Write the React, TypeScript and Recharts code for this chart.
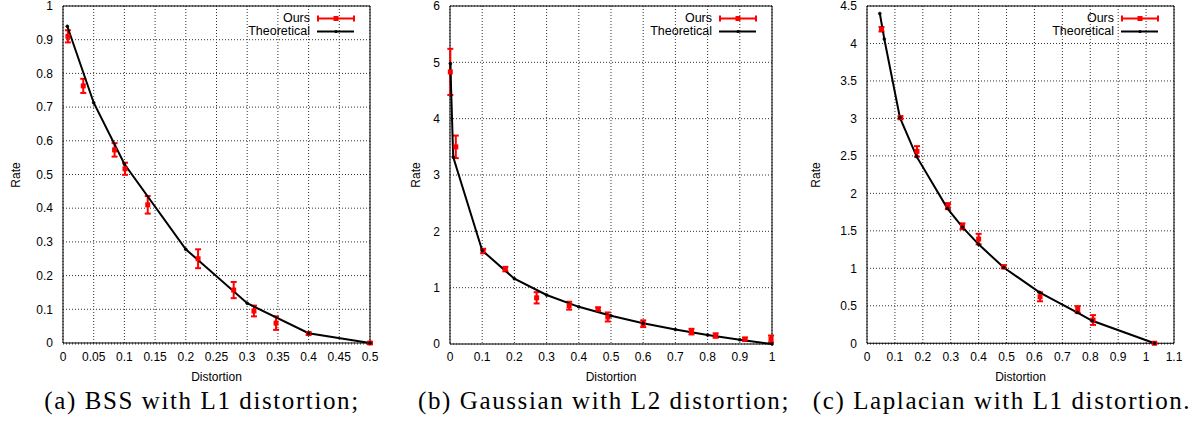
import {
  ComposedChart,
  Line,
  Scatter,
  ErrorBar,
  XAxis,
  YAxis,
  CartesianGrid,
  ReferenceArea,
  Legend,
} from 'recharts';

// (a) BSS with L1 distortion
const bssXTicks = [0, 0.05, 0.1, 0.15, 0.2, 0.25, 0.3, 0.35, 0.4, 0.45, 0.5];
const bssYTicks = [0, 0.1, 0.2, 0.3, 0.4, 0.5, 0.6, 0.7, 0.8, 0.9, 1];
const bssTheory = [
  { x: 0.007, y: 0.94 },
  { x: 0.05, y: 0.713 },
  { x: 0.1, y: 0.531 },
  { x: 0.2, y: 0.278 },
  { x: 0.3, y: 0.118 },
  { x: 0.4, y: 0.029 },
  { x: 0.5, y: 0 },
];
const bssOurs = [
  { x: 0.008, y: 0.91, e: 0.018 },
  { x: 0.033, y: 0.763, e: 0.021 },
  { x: 0.084, y: 0.573, e: 0.02 },
  { x: 0.101, y: 0.517, e: 0.018 },
  { x: 0.138, y: 0.41, e: 0.026 },
  { x: 0.22, y: 0.25, e: 0.028 },
  { x: 0.278, y: 0.157, e: 0.024 },
  { x: 0.311, y: 0.095, e: 0.016 },
  { x: 0.347, y: 0.059, e: 0.02 },
  { x: 0.4, y: 0.028, e: 0.004 },
  { x: 0.5, y: 0, e: 0.003 },
];

// (b) Gaussian with L2 distortion
const gaussXTicks = [0, 0.1, 0.2, 0.3, 0.4, 0.5, 0.6, 0.7, 0.8, 0.9, 1];
const gaussYTicks = [0, 1, 2, 3, 4, 5, 6];
const gaussTheory = [
  { x: 0.001, y: 4.98 },
  { x: 0.01, y: 3.32 },
  { x: 0.1, y: 1.66 },
  { x: 0.2, y: 1.16 },
  { x: 0.3, y: 0.87 },
  { x: 0.4, y: 0.66 },
  { x: 0.5, y: 0.5 },
  { x: 0.6, y: 0.37 },
  { x: 0.7, y: 0.257 },
  { x: 0.8, y: 0.161 },
  { x: 0.9, y: 0.076 },
  { x: 1, y: 0 },
];
const gaussOurs = [
  { x: 0.001, y: 4.83, e: 0.41 },
  { x: 0.018, y: 3.5, e: 0.2 },
  { x: 0.103, y: 1.65, e: 0.04 },
  { x: 0.172, y: 1.33, e: 0.04 },
  { x: 0.269, y: 0.82, e: 0.1 },
  { x: 0.37, y: 0.68, e: 0.07 },
  { x: 0.46, y: 0.62, e: 0.03 },
  { x: 0.49, y: 0.48, e: 0.08 },
  { x: 0.6, y: 0.36, e: 0.06 },
  { x: 0.75, y: 0.22, e: 0.05 },
  { x: 0.825, y: 0.15, e: 0.04 },
  { x: 0.916, y: 0.085, e: 0.03 },
  { x: 0.997, y: 0.09, e: 0.06 },
];

// (c) Laplacian with L1 distortion
const lapXTicks = [0, 0.1, 0.2, 0.3, 0.4, 0.5, 0.6, 0.7, 0.8, 0.9, 1, 1.1];
const lapYTicks = [0, 0.5, 1, 1.5, 2, 2.5, 3, 3.5, 4, 4.5];
const lapTheory = [
  { x: 0.046, y: 4.4 },
  { x: 0.062, y: 4.06 },
  { x: 0.118, y: 3.01 },
  { x: 0.178, y: 2.49 },
  { x: 0.288, y: 1.8 },
  { x: 0.342, y: 1.55 },
  { x: 0.4, y: 1.32 },
  { x: 0.49, y: 1.01 },
  { x: 0.618, y: 0.68 },
  { x: 0.754, y: 0.41 },
  { x: 0.807, y: 0.3 },
  { x: 1.03, y: 0 },
];
const lapOurs = [
  { x: 0.052, y: 4.19, e: 0.03 },
  { x: 0.12, y: 3.01, e: 0.02 },
  { x: 0.179, y: 2.56, e: 0.07 },
  { x: 0.29, y: 1.83, e: 0.04 },
  { x: 0.342, y: 1.56, e: 0.04 },
  { x: 0.4, y: 1.39, e: 0.07 },
  { x: 0.49, y: 1.02, e: 0.02 },
  { x: 0.62, y: 0.62, e: 0.06 },
  { x: 0.755, y: 0.45, e: 0.045 },
  { x: 0.81, y: 0.31, e: 0.065 },
  { x: 1.03, y: 0, e: 0.01 },
];

const sans = '"Liberation Sans", Arial, Helvetica, sans-serif';

// 8 minor divisions between each pair of major y ticks (b and c only)
const minorOf = (major: number[], n: number) =>
  major.slice(1).flatMap((v, i) => {
    const a = major[i];
    return Array.from({ length: n - 1 }, (_, k) => a + ((v - a) * (k + 1)) / n);
  });

const redSquare = (p: any) => (
  <rect x={p.cx - 2.5} y={p.cy - 2.5} width={5} height={5} fill="#ff0000" />
);

const yLabel = (props: any) => {
  const vb = props.viewBox;
  const cx = vb.x + 16;
  const cy = vb.y + vb.height / 2;
  return (
    <text
      x={cx}
      y={cy}
      transform={`rotate(-90 ${cx} ${cy})`}
      textAnchor="middle"
      dominantBaseline="central"
      fontFamily={sans}
      fontSize={12}
      fill="#000"
    >
      Rate
    </text>
  );
};

const xLabel = (props: any) => {
  const vb = props.viewBox;
  return (
    <text
      x={vb.x + vb.width / 2}
      y={vb.y + 37}
      textAnchor="middle"
      fontFamily={sans}
      fontSize={12}
      fill="#000"
    >
      Distortion
    </text>
  );
};

const legendBox = () => (
  <div style={{ fontFamily: sans, fontSize: 12.5, lineHeight: '13px', color: '#000' }}>
    <div style={{ display: 'flex', alignItems: 'center', justifyContent: 'flex-end' }}>
      <span>Ours</span>
      <svg width={38} height={13} style={{ marginLeft: 7 }}>
        <line x1={1} y1={6.5} x2={37} y2={6.5} stroke="#ff0000" strokeWidth={2} />
        <line x1={1} y1={3.5} x2={1} y2={9.5} stroke="#ff0000" strokeWidth={2} />
        <line x1={37} y1={3.5} x2={37} y2={9.5} stroke="#ff0000" strokeWidth={2} />
        <rect x={16.5} y={4} width={5} height={5} fill="#ff0000" />
      </svg>
    </div>
    <div style={{ display: 'flex', alignItems: 'center', justifyContent: 'flex-end' }}>
      <span>Theoretical</span>
      <svg width={38} height={13} style={{ marginLeft: 7 }}>
        <line x1={0} y1={6.5} x2={37} y2={6.5} stroke="#000" strokeWidth={2} />
        <circle cx={19} cy={6.5} r={1.6} fill="#000" />
      </svg>
    </div>
  </div>
);

type PanelProps = {
  left: number;
  width: number;
  yAxisWidth: number;
  xTicks: number[];
  yTicks: number[];
  minorY?: boolean;
  theory: { x: number; y: number }[];
  ours: { x: number; y: number; e: number }[];
};

function Panel({ left, width, yAxisWidth, xTicks, yTicks, minorY, theory, ours }: PanelProps) {
  const xMax = xTicks[xTicks.length - 1];
  const yMax = yTicks[yTicks.length - 1];
  const tickStyle = { fill: '#000', fontSize: 12, fontFamily: sans };
  return (
    <div style={{ position: 'absolute', left, top: 0 }}>
      <ComposedChart width={width} height={390} margin={{ top: 6, right: 10, bottom: 6, left: 0 }}>
        <CartesianGrid stroke="#333" strokeDasharray="1 2" strokeWidth={1} />
        <XAxis
          type="number"
          dataKey="x"
          domain={[0, xMax]}
          ticks={xTicks}
          interval={0}
          tickLine={false}
          axisLine={false}
          height={40}
          tick={tickStyle}
          tickFormatter={(v) => String(v)}
          label={xLabel}
        />
        <YAxis
          type="number"
          dataKey="y"
          domain={[0, yMax]}
          ticks={yTicks}
          interval={0}
          tickLine={false}
          axisLine={false}
          width={yAxisWidth}
          tickMargin={4}
          tick={tickStyle}
          tickFormatter={(v) => String(v)}
          label={yLabel}
        />
        {minorY && (
          <YAxis
            yAxisId="minor"
            type="number"
            mirror
            domain={[0, yMax]}
            ticks={minorOf(yTicks, 8)}
            interval={0}
            tick={false}
            tickSize={3}
            tickLine={{ stroke: '#000', strokeWidth: 1 }}
            axisLine={false}
          />
        )}
        <ReferenceArea x1={0} x2={xMax} y1={0} y2={yMax} fill="none" stroke="#000" strokeWidth={1} />
        <Scatter name="Ours" data={ours} fill="#ff0000" shape={redSquare} isAnimationActive={false}>
          <ErrorBar dataKey="e" direction="y" width={3} stroke="#ff0000" strokeWidth={2} isAnimationActive={false} />
        </Scatter>
        <Line
          name="Theoretical"
          data={theory}
          dataKey="y"
          stroke="#000"
          strokeWidth={2}
          dot={{ r: 1.5, fill: '#000', stroke: '#000', strokeWidth: 0.5 }}
          isAnimationActive={false}
        />
        <Legend
          layout="vertical"
          align="center"
          verticalAlign="middle"
          content={legendBox}
          wrapperStyle={{ top: 11.5, right: 25 }}
        />
      </ComposedChart>
    </div>
  );
}

const captionStyle = {
  position: 'absolute' as const,
  top: 387,
  width: 440,
  textAlign: 'center' as const,
  fontFamily: '"Liberation Serif", "Times New Roman", serif',
  fontSize: 25,
  letterSpacing: 1.6,
  color: '#000',
  whiteSpace: 'nowrap' as const,
};

export default function App() {
  return (
    <div style={{ position: 'absolute', left: 0, top: 0, width: 1198, height: 430, background: '#fff', overflow: 'hidden' }}>
      <Panel left={0} width={380} yAxisWidth={63} xTicks={bssXTicks} yTicks={bssYTicks} theory={bssTheory} ours={bssOurs} />
      <Panel left={400} width={382} yAxisWidth={50} xTicks={gaussXTicks} yTicks={gaussYTicks} minorY theory={gaussTheory} ours={gaussOurs} />
      <Panel left={800} width={384} yAxisWidth={67} xTicks={lapXTicks} yTicks={lapYTicks} minorY theory={lapTheory} ours={lapOurs} />
      <div style={{ ...captionStyle, left: 202 - 220 }}>(a) BSS with L1 distortion;</div>
      <div style={{ ...captionStyle, left: 604 - 220 }}>(b) Gaussian with L2 distortion;</div>
      <div style={{ ...captionStyle, left: 1002 - 220 }}>(c) Laplacian with L1 distortion.</div>
    </div>
  );
}
